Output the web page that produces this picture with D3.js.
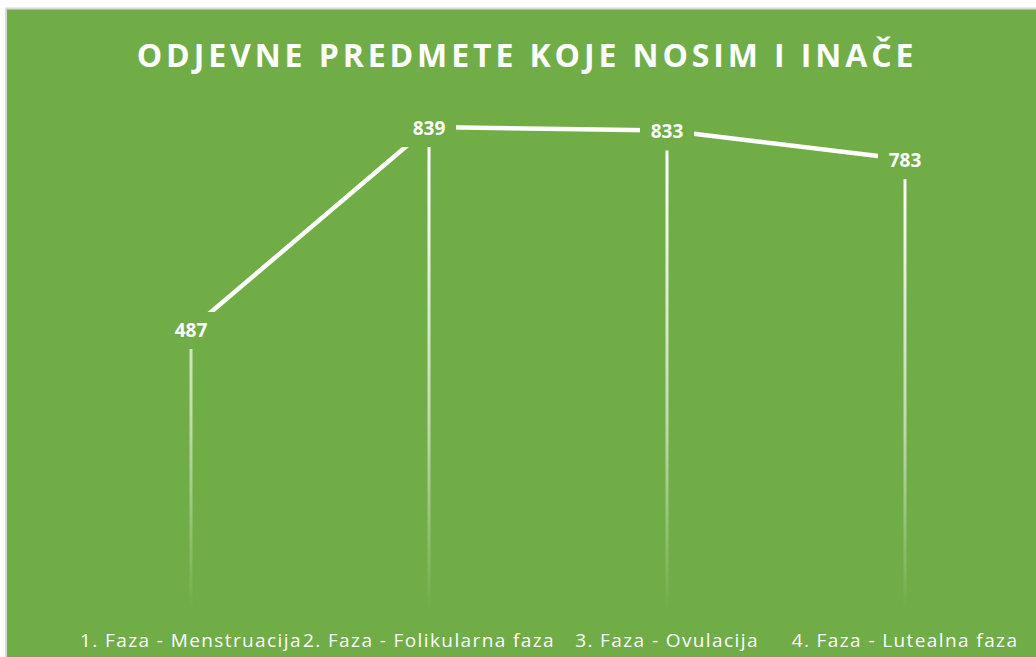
<!doctype html>
<html>
<head>
<meta charset="utf-8">
<script src="https://cdn.jsdelivr.net/npm/d3@7"></script>
<style>
  body { margin: 0; background: #fff; }
  svg { display: block; }
</style>
</head>
<body>
<svg width="1036" height="657"></svg>
<script>
var categories = ["1. Faza - Menstruacija", "2. Faza - Folikularna faza", "3. Faza - Ovulacija", "4. Faza - Lutealna faza"];
var values = [487, 839, 833, 783];
var title = "ODJEVNE PREDMETE KOJE NOSIM I INAČE";

var svg = d3.select("svg");
var green = "#70AD47";

// chart area with border
svg.append("rect").attr("x", 6).attr("y", 8.5).attr("width", 1040).attr("height", 660)
   .attr("fill", green).attr("stroke", "#d9d9d9").attr("stroke-width", 2);

var defs = svg.append("defs");
var grad = defs.append("linearGradient").attr("id", "drop")
   .attr("gradientUnits", "userSpaceOnUse").attr("x1", 0).attr("x2", 0)
   .attr("y1", 150).attr("y2", 610);
grad.append("stop").attr("offset", "0").attr("stop-color", "#fff").attr("stop-opacity", 1);
grad.append("stop").attr("offset", "0.6").attr("stop-color", "#fff").attr("stop-opacity", 0.55);
grad.append("stop").attr("offset", "1").attr("stop-color", "#fff").attr("stop-opacity", 0);

var x = d3.scalePoint().domain(categories).range([191, 905]);
var y = d3.scaleLinear().domain([0, 900]).range([608.5, 92]);

svg.append("text").attr("x", 527).attr("y", 67).attr("text-anchor", "middle")
   .attr("fill", "#fff").style("font-family", "'Open Sans', sans-serif")
   .style("font-weight", "bold").style("font-size", "32px").style("letter-spacing", "3.9px")
   .text(title);

// drop lines
svg.selectAll(".drop").data(values).enter().append("line")
   .attr("x1", (d, i) => x(categories[i])).attr("x2", (d, i) => x(categories[i]))
   .attr("y1", d => y(d)).attr("y2", 612)
   .attr("stroke", "url(#drop)").attr("stroke-width", 3);

var line = d3.line().x((d, i) => x(categories[i])).y(d => y(d));
svg.append("path").datum(values).attr("d", line)
   .attr("fill", "none").attr("stroke", "#fff").attr("stroke-width", 4.5);

// data labels with background
var lab = svg.selectAll(".lab").data(values).enter().append("g")
   .attr("transform", (d, i) => "translate(" + x(categories[i]) + "," + y(d) + ")");
lab.append("rect").attr("x", -27).attr("y", -17).attr("width", 54).attr("height", 37).attr("fill", green);
lab.append("text").attr("text-anchor", "middle").attr("y", 8)
   .attr("fill", "#fff").style("font-family", "'Open Sans', sans-serif")
   .style("font-weight", "bold").style("font-size", "19px")
   .text(d => d);

svg.selectAll(".cat").data(categories).enter().append("text")
   .attr("x", d => x(d)).attr("y", 647).attr("text-anchor", "middle")
   .attr("fill", "#fff").style("font-family", "'Open Sans', sans-serif")
   .style("font-size", "19px").style("letter-spacing", "1.4px")
   .text(d => d);
</script>
</body>
</html>
